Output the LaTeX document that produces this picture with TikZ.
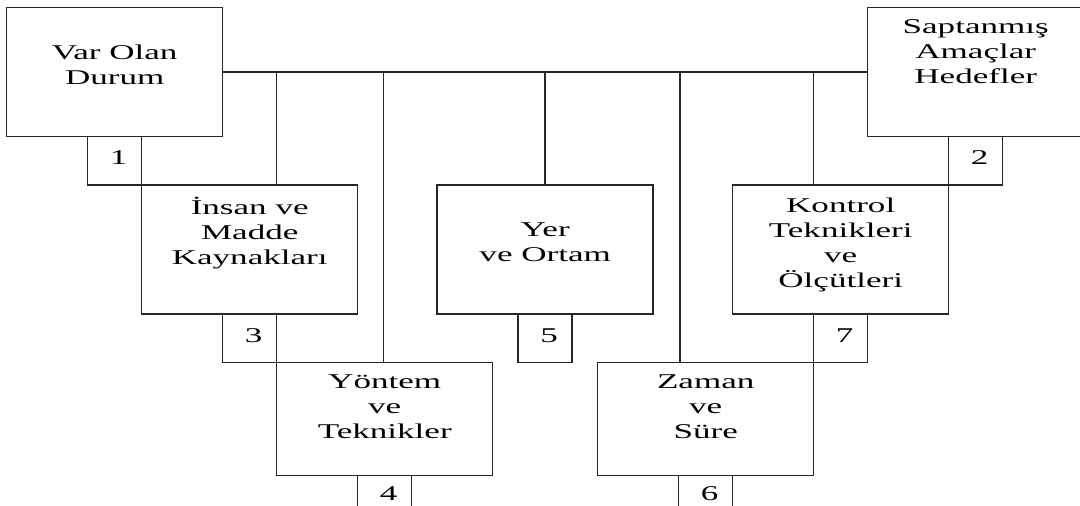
\documentclass[tikz,border=0pt]{standalone}
\usepackage{fontspec}
% wide serif face for all labels
\newfontfamily\boxfont{Liberation Serif}[FakeStretch=1.67]
\begin{document}
\begin{tikzpicture}[x=1pt,y=-1pt,
  line width=1.5pt,
  frame/.style={draw=black!85, inner sep=0pt, minimum width=216pt, anchor=north},
  tallbox/.style={frame, minimum height=129pt},
  lowbox/.style={frame, minimum height=113pt},
  numbox/.style={draw=black!85, inner sep=0pt, minimum width=54pt, minimum height=48.5pt,
    anchor=north, font=\boxfont\fontsize{21pt}{25pt}\selectfont,
    text height=14pt, text depth=6pt, execute at begin node={\hspace*{8pt}}},
  numlow/.style={numbox, text height=10pt, text depth=8pt},
  caption/.style={anchor=north, inner sep=0pt, align=center,
    font=\boxfont\fontsize{21pt}{25pt}\selectfont,
    execute at begin node={\rule{0pt}{20pt}}},
  wire/.style={draw=black!85}
]
\useasboundingbox (0,0) rectangle (1080,506);
\clip (0,0) rectangle (1080,506);

% top row
\node[tallbox] (b1) at (114.7,6.7) {};
\node[tallbox] (b2) at (975.7,6.7) {};
\node[numbox] (n1) at (114.7,135.7) {1};
\node[numbox] (n2) at (975.7,135.7) {2};

% middle row
\node[tallbox] (ins) at (249.7,184.2) {};
\node[tallbox] (yer) at (545.2,184.2) {};
\node[tallbox] (kon) at (840.7,184.2) {};
\node[numbox] (n3) at (249.7,313.2) {3};
\node[numbox] (n5) at (545.2,313.2) {5};
\node[numbox] (n7) at (840.7,313.2) {7};

% bottom row
\node[lowbox] (yon) at (384.7,361.7) {};
\node[lowbox] (zam) at (705.7,361.7) {};
\node[numlow] (n4) at (384.7,474.7) {4};
\node[numlow] (n6) at (705.7,474.7) {6};

% box texts
\node[caption] (tb1) at ([yshift=-37.5pt]b1.north) {Var Olan\\Durum};
\node[caption] (tb2) at ([yshift=-12.5pt]b2.north) {Saptanmış\\Amaçlar\\Hedefler};
\node[caption] (tins) at ([yshift=-12.5pt]ins.north) {İnsan ve\\Madde\\Kaynakları};
\node[caption] (tyer) at ([yshift=-37.5pt]yer.north) {Yer\\ve Ortam};
\node[caption] (tkon) at ([yshift=-12.5pt]kon.north) {Kontrol\\Teknikleri\\ve\\Ölçütleri};
\node[caption] (tyon) at ([yshift=-12.5pt]yon.north) {Yöntem\\ve\\Teknikler};
\node[caption] (tzam) at ([yshift=-12.5pt]zam.north) {Zaman\\ve\\Süre};

% connecting bus and its drops
\coordinate (j1) at (276.7,0);
\coordinate (j2) at (383.5,0);
\coordinate (j3) at (545.2,0);
\coordinate (j4) at (680.0,0);
\coordinate (j5) at (813.7,0);
\draw[wire] (b1.east) -- (b2.west);
\draw[wire] (b1.east -| j1) -- (ins.north -| j1);
\draw[wire] (b1.east -| j2) -- (yon.north -| j2);
\draw[wire] (b1.east -| j3) -- (yer.north -| j3);
\draw[wire] (b1.east -| j4) -- (zam.north -| j4);
\draw[wire] (b1.east -| j5) -- (kon.north -| j5);
\end{tikzpicture}
\end{document}
